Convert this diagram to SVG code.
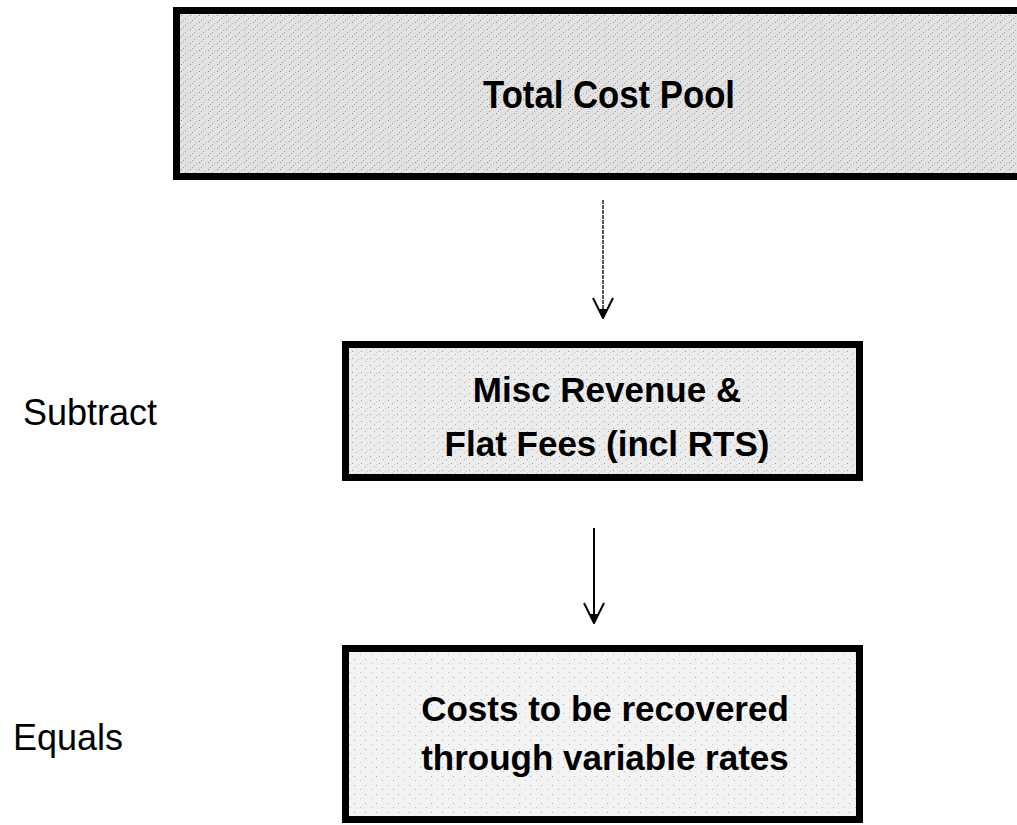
<svg xmlns="http://www.w3.org/2000/svg" width="1017" height="825" viewBox="0 0 1017 825">
<style>
.box{stroke:#000;stroke-width:7}
.bt{font-family:"Liberation Sans",Arial,sans-serif;font-weight:bold;font-size:35px;fill:#000;text-anchor:middle}
.lbl{font-family:"Liberation Sans",Arial,sans-serif;font-size:36px;fill:#000}
.conn{fill:none;stroke-width:2}
</style>
<defs>
<pattern id="speck1" width="9" height="7" patternUnits="userSpaceOnUse">
<rect width="9" height="7" fill="#e2e2e2"/>
<rect x="1" y="1" width="1" height="1" fill="#8a8a8a"/>
<rect x="5" y="4" width="1" height="1" fill="#a0a0a0"/>
<rect x="7" y="2" width="1" height="1" fill="#b4b4b4"/>
<rect x="3" y="6" width="1" height="1" fill="#9c9c9c"/>
</pattern>
<pattern id="speck" width="9" height="7" patternUnits="userSpaceOnUse">
<rect width="9" height="7" fill="#ececec"/>
<rect x="1" y="1" width="1" height="1" fill="#9a9a9a"/>
<rect x="5" y="4" width="1" height="1" fill="#b0b0b0"/>
<rect x="7" y="2" width="1" height="1" fill="#c4c4c4"/>
</pattern>
<pattern id="speck2" width="11" height="9" patternUnits="userSpaceOnUse">
<rect width="11" height="9" fill="#f3f3f3"/>
<rect x="2" y="2" width="1" height="1" fill="#a8a8a8"/>
<rect x="8" y="6" width="1" height="1" fill="#bcbcbc"/>
</pattern>
<marker id="arr" viewBox="0 0 22 24" refX="21" refY="12" markerWidth="22" markerHeight="24" markerUnits="userSpaceOnUse" orient="auto">
<path d="M1,2 L21,12 L1,22" fill="none" stroke="#000" stroke-width="2"/>
<path d="M12,8 L21,12 L12,16 Z" fill="#000"/>
</marker>
</defs>
<g id="connectors">
<line class="conn" x1="603" y1="200" x2="603" y2="318" stroke="#555" stroke-dasharray="4 1" marker-end="url(#arr)"/>
<line class="conn" x1="594" y1="528" x2="594" y2="623" stroke="#000" marker-end="url(#arr)"/>
</g>
<g id="total-cost-pool">
<rect class="box" x="176.5" y="10.5" width="900" height="166" fill="url(#speck1)"/>
<text class="bt" x="483" y="108" style="font-size:39px;text-anchor:start" textLength="252" lengthAdjust="spacingAndGlyphs">Total Cost Pool</text>
</g>
<g id="misc-revenue">
<rect class="box" x="345.5" y="344.5" width="514" height="133" fill="url(#speck)"/>
<text class="bt" x="607" y="402">Misc Revenue &amp;</text>
<text class="bt" x="607" y="456">Flat Fees (incl RTS)</text>
</g>
<g id="costs-recovered">
<rect class="box" x="345.5" y="648.5" width="514" height="171" fill="url(#speck2)"/>
<text class="bt" x="605" y="721">Costs to be recovered</text>
<text class="bt" x="605" y="770">through variable rates</text>
</g>
<g id="labels">
<text class="lbl" x="23" y="425">Subtract</text>
<text class="lbl" x="13" y="750">Equals</text>
</g>
</svg>
